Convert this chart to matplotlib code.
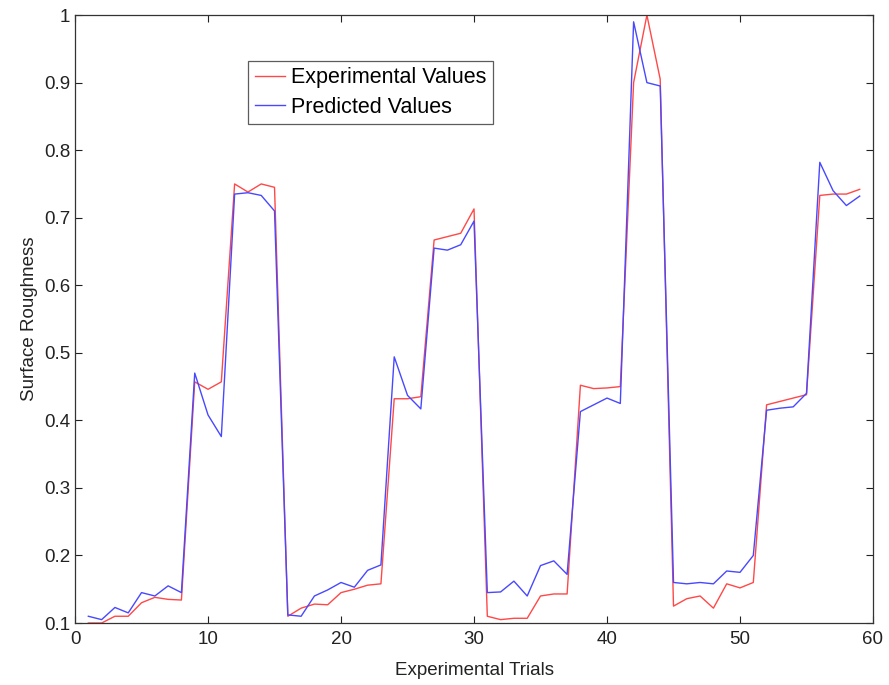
import matplotlib
matplotlib.use("Agg")
import matplotlib.pyplot as plt
from matplotlib.ticker import FuncFormatter

trials = list(range(1, 60))

experimental = [
    0.100, 0.100, 0.110, 0.110, 0.130, 0.138, 0.135, 0.134, 0.457, 0.446,
    0.457, 0.750, 0.738, 0.750, 0.745, 0.110, 0.122, 0.128, 0.127, 0.145,
    0.150, 0.156, 0.158, 0.432, 0.432, 0.435, 0.667, 0.672, 0.677, 0.713,
    0.110, 0.105, 0.107, 0.107, 0.140, 0.143, 0.143, 0.452, 0.447, 0.448,
    0.450, 0.900, 1.000, 0.905, 0.125, 0.136, 0.140, 0.122, 0.158, 0.152,
    0.160, 0.423, 0.428, 0.433, 0.438, 0.733, 0.735, 0.735, 0.742,
]

predicted = [
    0.110, 0.105, 0.123, 0.115, 0.145, 0.140, 0.155, 0.145, 0.470, 0.408,
    0.376, 0.735, 0.737, 0.733, 0.710, 0.112, 0.110, 0.140, 0.149, 0.160,
    0.153, 0.178, 0.186, 0.494, 0.437, 0.417, 0.655, 0.652, 0.660, 0.695,
    0.145, 0.146, 0.162, 0.140, 0.185, 0.192, 0.172, 0.413, 0.423, 0.433,
    0.425, 0.990, 0.900, 0.895, 0.160, 0.158, 0.160, 0.158, 0.177, 0.175,
    0.200, 0.415, 0.418, 0.420, 0.440, 0.782, 0.740, 0.718, 0.732,
]

x_ticks = [0, 10, 20, 30, 40, 50, 60]
y_ticks = [0.1, 0.2, 0.3, 0.4, 0.5, 0.6, 0.7, 0.8, 0.9, 1.0]

plt.rcParams["font.family"] = ["Liberation Sans", "DejaVu Sans"]

fig = plt.figure(figsize=(8.89, 6.85), dpi=100)
ax = fig.add_axes([0.0844, 0.0905, 0.8976, 0.8875])

ax.plot(trials, experimental, color="#ff4848", linewidth=1.0, label="Experimental Values")
ax.plot(trials, predicted, color="#4848ff", linewidth=1.0, label="Predicted Values")

ax.set_xlim(0, 60)
ax.set_ylim(0.1, 1.0)
ax.set_xticks(x_ticks)
ax.set_yticks(y_ticks)
ax.yaxis.set_major_formatter(FuncFormatter(lambda v, p: f"{v:g}"))

ax.tick_params(direction="in", top=True, right=True, labelsize=13.5,
               length=5, width=0.8, colors="#222222", labelcolor="#222222")
ax.tick_params(axis="x", pad=6)
for s in ax.spines.values():
    s.set_linewidth(0.9)
    s.set_color("#333333")

ax.set_xlabel("Experimental Trials", fontsize=13.5, color="#222222", labelpad=10)
ax.set_ylabel("Surface Roughness", fontsize=13.5, color="#222222", labelpad=4)

leg = ax.legend(loc="upper left", bbox_to_anchor=(0.217, 0.925), fontsize=15.5,
                frameon=True, fancybox=False, edgecolor="#333333",
                handlelength=1.4, handletextpad=0.3, borderpad=0.3,
                labelspacing=0.4, borderaxespad=0)
leg.get_frame().set_linewidth(0.9)

fig.savefig("out.png", dpi=100, facecolor="white")
